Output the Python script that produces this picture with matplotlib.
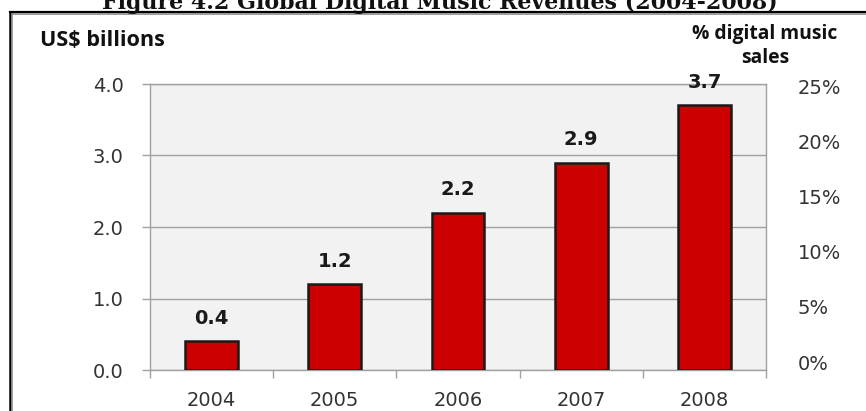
import matplotlib
matplotlib.use("Agg")
import matplotlib.pyplot as plt
from matplotlib.lines import Line2D
from matplotlib.ticker import FixedLocator, FuncFormatter
import numpy as np

# ---- data ----
years = ["2004", "2005", "2006", "2007", "2008"]
revenues = [0.4, 1.2, 2.2, 2.9, 3.7]
left_ticks = [0.0, 1.0, 2.0, 3.0, 4.0]
right_ticks = [0, 5, 10, 15, 20, 25]

title = "Figure 4.2 Global Digital Music Revenues (2004-2008)"
left_label = "US$ billions"
right_label = "% digital music\nsales"

W, H = 866, 411
fig = plt.figure(figsize=(W / 100, H / 100), dpi=100)
fig.patch.set_facecolor("white")

L, R, T, B = 150, 766, 84, 370
ax = fig.add_axes([L / W, (H - B) / H, (R - L) / W, (B - T) / H])
ax.set_facecolor("#F2F2F2")

x = np.arange(len(years))
ax.bar(x, revenues, width=0.43, color="#CC0000", edgecolor="#1a1a1a",
       linewidth=1.8, zorder=3)

for xi, v in zip(x, revenues):
    ax.annotate(f"{v:.1f}", (xi, v), xytext=(0, 16.5), textcoords="offset points",
                ha="center", va="center", fontsize=14, fontweight="bold",
                color="#1a1a1a", family="DejaVu Sans", zorder=5)

ax.set_xlim(-0.5, len(years) - 0.5)
ax.set_ylim(0, 4.0)
grid_c = "#A0A0A0"
for s in ax.spines.values():
    s.set_color(grid_c)
    s.set_linewidth(1.0)

ax.set_yticks(left_ticks)
ax.yaxis.set_major_formatter(FuncFormatter(lambda v, p: f"{v:.1f}"))
ax.tick_params(axis="y", direction="out", length=6, width=1, color=grid_c,
               pad=13, labelsize=14, labelcolor="#333333")
ax.yaxis.grid(True, color=grid_c, linewidth=1.0, zorder=0)
ax.set_axisbelow(True)

ax.set_xticks(x)
ax.set_xticklabels(years)
ax.xaxis.set_minor_locator(FixedLocator(np.arange(-0.5, len(years), 1.0)))
ax.tick_params(axis="x", which="major", length=0, pad=15, labelsize=14,
               labelcolor="#333333")
ax.tick_params(axis="x", which="minor", direction="out", length=5.5, width=1,
               color=grid_c)
for lbl in ax.get_xticklabels() + ax.get_yticklabels():
    lbl.set_family("DejaVu Sans")

# right axis (percent scale)
ax2 = ax.twinx()
ax2.set_ylim(-0.727, 25.27)
ax2.set_yticks(right_ticks)
ax2.yaxis.set_major_formatter(FuncFormatter(lambda v, p: f"{int(v)}%"))
ax2.tick_params(axis="y", length=0, pad=23, labelsize=14, labelcolor="#333333")
for s in ax2.spines.values():
    s.set_visible(False)
for lbl in ax2.get_yticklabels():
    lbl.set_family("DejaVu Sans")

fig.canvas.draw()
r = fig.canvas.get_renderer()


def fit(txt, target_w):
    fs = txt.get_fontsize()
    w = txt.get_window_extent(renderer=r).width
    txt.set_fontsize(fs * target_w / w)


# axis titles
t1 = fig.text(40 / W, 1 - 40 / H, left_label, ha="left", va="center", fontsize=15,
              fontweight="bold", family="Open Sans", color="#111111")
fit(t1, 125)
t2 = fig.text(765 / W, 1 - 34 / H, "% digital music", ha="center", va="center",
              fontsize=12, fontweight="bold", family="Open Sans", color="#111111")
fit(t2, 145)
t3 = fig.text(765 / W, 1 - 58 / H, "sales", ha="center", va="center",
              fontsize=t2.get_fontsize(), fontweight="bold", family="Open Sans",
              color="#111111")

# title (partly cut at top, as in the source)
t = fig.text(440 / W, 1 - 9.5 / H, title, ha="center", va="baseline",
             fontsize=17, fontweight="bold", family="DejaVu Serif", color="#111111")
fit(t, 680)

# frame lines (black with gray shadow)
fig.add_artist(Line2D([9.5 / W, 1], [1 - 12 / H, 1 - 12 / H], transform=fig.transFigure,
                      color="black", linewidth=1.6))
fig.add_artist(Line2D([12 / W, 1], [1 - 14.2 / H, 1 - 14.2 / H], transform=fig.transFigure,
                      color="#8c8c8c", linewidth=1.2))
fig.add_artist(Line2D([9.5 / W, 9.5 / W], [0, 1 - 12 / H], transform=fig.transFigure,
                      color="black", linewidth=1.8))
fig.add_artist(Line2D([12.3 / W, 12.3 / W], [0, 1 - 14.2 / H], transform=fig.transFigure,
                      color="#8c8c8c", linewidth=1.2))

fig.savefig("out.png", dpi=100)
